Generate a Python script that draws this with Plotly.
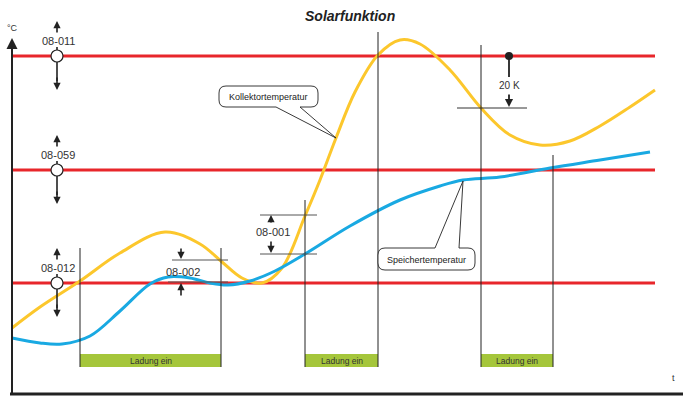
import plotly.graph_objects as go

W, H = 683, 397

def Y(py):
    # vertical drawing coordinate measured upward from the bottom edge
    return H - py

# --- data -------------------------------------------------------------
# collector temperature (x position, level)
kollektor_x = [12, 40, 80, 120, 165, 200, 222, 242, 262, 282, 305, 320, 336, 355, 378, 400, 420, 450, 481, 510, 540, 570, 600, 630, 655]
kollektor_y = [328, 307, 281, 253, 232, 244, 262, 278, 283, 268, 216, 180, 138, 92, 55, 40, 44, 70, 108, 135, 145, 141, 126, 107, 90]
# storage temperature
speicher_x = [12, 40, 62, 90, 120, 150, 168, 190, 210, 228, 250, 275, 305, 350, 400, 440, 463, 500, 550, 600, 650]
speicher_y = [338, 343, 344, 336, 311, 284, 277, 278, 283, 285, 281, 271, 254, 226, 200, 186, 180, 177, 168, 160, 152]

# switching thresholds (red lines) and their parameter codes
threshold_levels = [56, 170, 283]
threshold_codes = ["08-011", "08-059", "08-012"]

# charging periods (start, end)
ladung_periods = [(80, 221), (305, 378), (481, 553)]
ladung_text = "Ladung ein"

kollektor_y = [Y(v) for v in kollektor_y]
speicher_y = [Y(v) for v in speicher_y]

RED = "#E8262B"
YELLOW = "#FCC72C"
BLUE = "#19A9E2"
GREEN = "#A5C63B"
INK = "#222222"
FONT = "Liberation Sans, Arial, sans-serif"

fig = go.Figure()
shapes = []
annotations = []

def line(x0, y0, x1, y1, color=INK, width=1):
    shapes.append(dict(type="line", x0=x0, y0=Y(y0), x1=x1, y1=Y(y1),
                       line=dict(color=color, width=width), layer="above"))

def arrow(xh, yh, xt, yt, width=1.6, size=1.1):
    annotations.append(dict(x=xh, y=Y(yh), ax=xt, ay=Y(yt), xref="x", yref="y",
                            axref="x", ayref="y", text="", showarrow=True,
                            arrowhead=2, arrowsize=size, arrowwidth=width,
                            arrowcolor=INK, standoff=0, startstandoff=0))

def text(x, y, s, size=11, color="#333333", **kw):
    annotations.append(dict(x=x, y=Y(y), xref="x", yref="y", text=s, showarrow=False,
                            font=dict(family=FONT, size=size, color=color), **kw))

# green "Ladung ein" bars and their boundary lines
for x0, x1 in ladung_periods:
    shapes.append(dict(type="rect", x0=x0, x1=x1, y0=Y(367), y1=Y(354),
                       fillcolor=GREEN, line=dict(width=0), layer="below"))
    text((x0 + x1) / 2, 361, ladung_text, size=8.5, color="#333333")

vert_tops = {80: 248, 221: 248, 305: 200, 378: 32, 481: 45, 553: 155}
for vx, top in vert_tops.items():
    line(vx, top, vx, 367, width=1)

# threshold lines
for lvl in threshold_levels:
    shapes.append(dict(type="line", x0=12, x1=655, y0=Y(lvl), y1=Y(lvl),
                       line=dict(color=RED, width=3), layer="below"))

# curves
fig.add_trace(go.Scatter(x=kollektor_x, y=kollektor_y, mode="lines",
                         line=dict(color=YELLOW, width=3, shape="spline", smoothing=1.0),
                         hoverinfo="skip"))
fig.add_trace(go.Scatter(x=speicher_x, y=speicher_y, mode="lines",
                         line=dict(color=BLUE, width=3, shape="spline", smoothing=1.0),
                         hoverinfo="skip"))

# threshold setters: circle, code label, up/down arrows
for lvl, code in zip(threshold_levels, threshold_codes):
    arrow(57, lvl - 35, 57, lvl - 22, size=0.9)
    text(58, lvl - 15, code, size=11)
    line(57, lvl - 9, 57, lvl - 6, width=1.6)
    line(57, lvl + 6, 57, lvl + 25, width=1.6)
    arrow(57, lvl + 34, 57, lvl + 20, size=0.9)
fig.add_trace(go.Scatter(x=[57] * 3, y=[Y(v) for v in threshold_levels], mode="markers",
                         marker=dict(size=12, color="white", line=dict(color=INK, width=1.2)),
                         hoverinfo="skip"))

# 08-002 hysteresis marker
line(172, 260, 228, 260, color="#555555", width=1)
line(168, 282, 228, 282, color="#555555", width=1)
arrow(181, 259, 181, 247, size=0.9)
arrow(181, 283, 181, 297, size=0.9)
text(183, 272, "08-002", size=11)

# 08-001 switch-on difference
line(260, 215, 317, 215, color="#555555", width=1)
line(260, 254, 317, 254, color="#555555", width=1)
arrow(271, 215, 271, 224, size=0.9)
arrow(271, 253, 271, 240, size=0.9)
text(273, 232, "08-001", size=11)

# 20 K offset
line(457, 108, 527, 108, color="#333333", width=1)
fig.add_trace(go.Scatter(x=[509], y=[Y(56)], mode="markers",
                         marker=dict(size=8, color=INK), hoverinfo="skip"))
line(509, 56, 509, 77, width=1.8)
arrow(509, 107, 509, 93, width=1.8, size=0.9)
text(509, 85, "20 K", size=10)

# speech-bubble callouts
def bubble(x0, y0, x1, y1, r, p0, p1, tip, bottom=True):
    tx, ty = tip
    if bottom:
        path = (f"M {x0 + r},{Y(y0)} L {x1 - r},{Y(y0)} Q {x1},{Y(y0)} {x1},{Y(y0 + r)} "
                f"L {x1},{Y(y1 - r)} Q {x1},{Y(y1)} {x1 - r},{Y(y1)} "
                f"L {p1},{Y(y1)} L {tx},{Y(ty)} L {p0},{Y(y1)} "
                f"L {x0 + r},{Y(y1)} Q {x0},{Y(y1)} {x0},{Y(y1 - r)} "
                f"L {x0},{Y(y0 + r)} Q {x0},{Y(y0)} {x0 + r},{Y(y0)} Z")
    else:
        path = (f"M {x0 + r},{Y(y0)} L {p0},{Y(y0)} L {tx},{Y(ty)} L {p1},{Y(y0)} "
                f"L {x1 - r},{Y(y0)} Q {x1},{Y(y0)} {x1},{Y(y0 + r)} "
                f"L {x1},{Y(y1 - r)} Q {x1},{Y(y1)} {x1 - r},{Y(y1)} "
                f"L {x0 + r},{Y(y1)} Q {x0},{Y(y1)} {x0},{Y(y1 - r)} "
                f"L {x0},{Y(y0 + r)} Q {x0},{Y(y0)} {x0 + r},{Y(y0)} Z")
    shapes.append(dict(type="path", path=path, fillcolor="white",
                       line=dict(color=INK, width=0.9), layer="above"))

bubble(219, 86, 318, 107, 7, 276, 300, (336, 138), bottom=True)
text(268, 96.5, "Kollektortemperatur", size=9, color="#222222")
bubble(378, 248, 475, 270, 7, 435, 459, (463, 181), bottom=False)
text(426, 259.5, "Speichertemperatur", size=9, color="#222222")

# axes
line(12, 395, 12, 50, width=2)
arrow(12, 38, 12, 52, width=2)
line(10, 394, 683, 394, color="#222222", width=3)
text(12, 28, "°C", size=9)
text(673, 378, "t", size=9)

# title
text(350, 16, "<b><i>Solarfunktion</i></b>", size=14, color="#222222")

fig.update_layout(
    width=W, height=H, margin=dict(l=0, r=0, t=0, b=0),
    paper_bgcolor="white", plot_bgcolor="white", showlegend=False,
    shapes=shapes, annotations=annotations,
    xaxis=dict(range=[0, W], visible=False, fixedrange=True),
    yaxis=dict(range=[0, H], visible=False, fixedrange=True),
)
fig.write_html("out.html")
